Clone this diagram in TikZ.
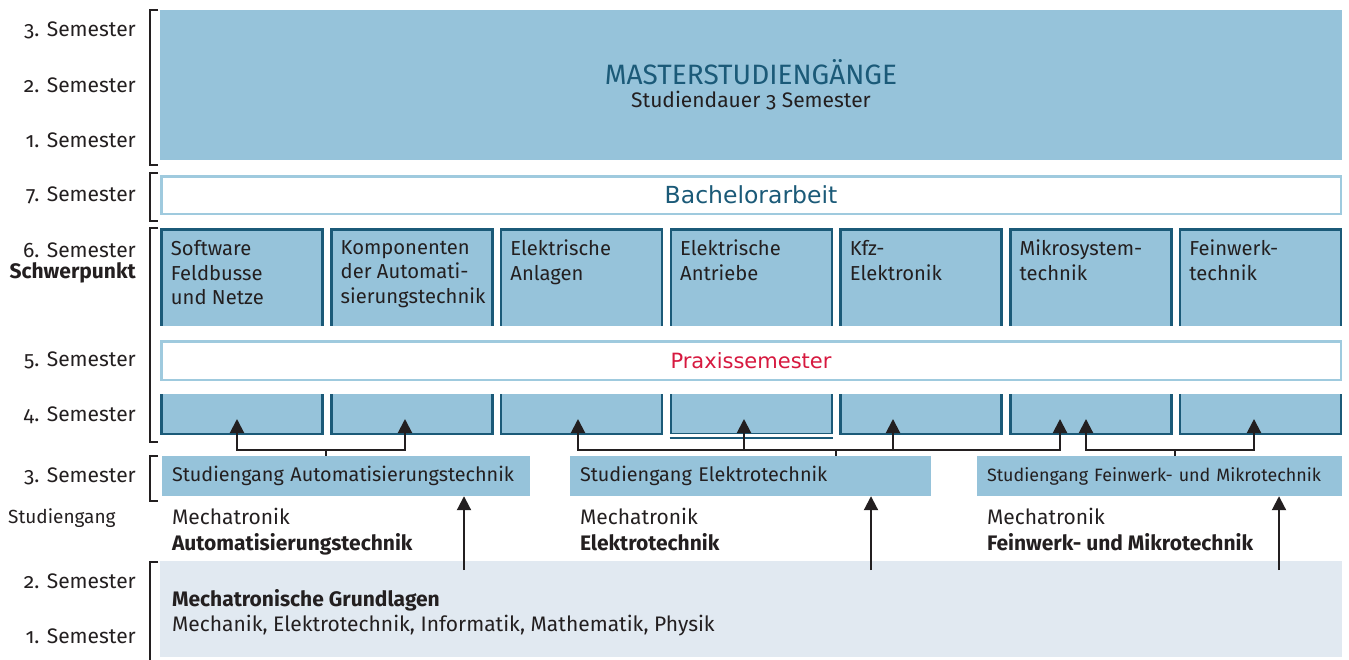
\documentclass[tikz,border=0pt]{standalone}
\usepackage{fontspec}
\setmainfont{Fira Sans}[Numbers=OldStyle]
\newfontfamily\breitfont{DejaVu Sans}
\usetikzlibrary{arrows.meta}

\definecolor{hellblau}{HTML}{96C3DA}
\definecolor{dunkelblau}{HTML}{1B5A78}
\definecolor{randblau}{HTML}{9FCADE}
\definecolor{grundgrau}{HTML}{E1E9F1}
\definecolor{praxisrot}{HTML}{D7193F}
\definecolor{strich}{HTML}{231F20}

\newcommand{\normsz}{\fontsize{21}{25}\selectfont}

\tikzset{
  semlabel/.style={anchor=east, font=\normsz, text=strich},
  spbox/.style={draw=dunkelblau, fill=hellblau, line width=2.5pt,
    minimum width=161pt, minimum height=204.5pt},
  sptext/.style={anchor=north west, align=left,
    font=\fontsize{20.2}{24.8}\selectfont, text=strich},
  weissbox/.style={draw=randblau, fill=white, line width=2.5pt,
    minimum width=1179.5pt},
  sgbox/.style={fill=hellblau, minimum height=40pt, inner xsep=10pt,
    align=left, font=\fontsize{19.8}{25}\selectfont, text=strich},
  mechtext/.style={anchor=north west, align=left,
    font=\fontsize{21}{26}\selectfont, text=strich},
  klammer/.style={line width=2.5pt, strich},
  linie/.style={line width=2pt, strich},
  pfeil/.style={linie, -{Triangle[length=14pt,width=14pt]}}
}

\begin{document}
\begin{tikzpicture}
    [x=1pt, y=-1pt, every node/.style={inner sep=0pt}]
    \useasboundingbox (0,0) rectangle (1349,659);

    % Semester am linken Rand
    \node[semlabel] (m3) at (136,30) {3. Semester};
    \node[semlabel] (m2) at (136,85) {2. Semester};
    \node[semlabel] (m1) at (136,140) {1. Semester};
    \node[semlabel] (b7) at (136,195) {7. Semester};
    \node[semlabel] (b6) at (136,250) {6. Semester};
    \node[semlabel] (sp) at (136,273) {\bfseries Schwerpunkt};
    \node[semlabel] (b5) at (136,360) {5. Semester};
    \node[semlabel] (b4) at (136,415) {4. Semester};
    \node[semlabel] (b3) at (136,476) {3. Semester};
    \node[semlabel, anchor=west, font=\fontsize{19}{25}\selectfont] (sg) at (8,518) {Studiengang};
    \node[semlabel] (b2) at (136,581) {2. Semester};
    \node[semlabel] (b1) at (136,636) {1. Semester};

    % Klammern
    \draw[klammer] (158,10) -- (150,10) -- (150,165) -- (158,165);
    \draw[klammer] (158,173) -- (150,173) -- (150,221) -- (158,221);
    \draw[klammer] (158,228) -- (150,228) -- (150,442) -- (158,442);
    \draw[klammer] (158,456) -- (150,456) -- (150,501) -- (158,501);
    \draw[klammer] (158,562) -- (150,562) -- (150,660);

    % Master
    \node[fill=hellblau, minimum width=1182pt, minimum height=150pt] (master) at (751,85) {};
    \node[text=dunkelblau, font=\fontsize{28}{32}\selectfont] (mt) at (751,72) {MASTERSTUDIENGÄNGE};
    \node[text=strich, font=\normsz] (md) at (751,101) {Studiendauer 3 Semester};

    % Bachelorarbeit
    \node[weissbox, minimum height=37.5pt, text=dunkelblau,
      font=\breitfont\fontsize{23.5}{26}\selectfont] (ba) at (751,195) {Bachelorarbeit};

    % Schwerpunkte
    \foreach \i/\txt in {1/{Software\\Feldbusse\\und Netze},
                         2/{Komponenten\\der Automati-\\sierungstechnik},
                         3/{Elektrische\\Anlagen},
                         4/{Elektrische\\Antriebe},
                         5/{Kfz-\\Elektronik},
                         6/{Mikrosystem-\\technik},
                         7/{Feinwerk-\\technik}}{
      \pgfmathsetmacro{\cx}{242+169.75*(\i-1)}
      \node[spbox] (c\i) at (\cx,331.5) {};
      \node[sptext] (t\i) at ([xshift=10.5pt,yshift=-12pt]c\i.north west) {\txt};
    }
    % versetzte Unterkante bei Spalte 4
    \draw[white, line width=2.5pt] (c4.south west) -- (c4.south east);
    \draw[dunkelblau, line width=2.5pt] ([yshift=-3pt]c4.south west) -- ([yshift=-3pt]c4.south east);

    % Praxissemester
    \fill[white] (156,326) rectangle (1346,394);
    \node[weissbox, minimum height=38.5pt, text=praxisrot,
      font=\breitfont\fontsize{21}{24}\selectfont] (praxis) at (751,360.5) {Praxissemester};

    % Studiengaenge
    \node[sgbox, text width=348pt] (sa) at (346,476) {Studiengang Automatisierungstechnik};
    \node[sgbox, text width=341pt] (se) at (750.5,476) {Studiengang Elektrotechnik};
    \node[sgbox, text width=345pt, font=\fontsize{17.9}{25}\selectfont] (sf) at (1159.5,476)
      {Studiengang Feinwerk- und Mikrotechnik};

    \node[mechtext] (ma) at ([xshift=10pt,yshift=-12pt]sa.south west)
      {Mechatronik\\\textbf{Automatisierungstechnik}};
    \node[mechtext] (me) at ([xshift=10pt,yshift=-12pt]se.south west)
      {Mechatronik\\\textbf{Elektrotechnik}};
    \node[mechtext] (mf) at ([xshift=10pt,yshift=-12pt]sf.south west)
      {Mechatronik\\\textbf{Feinwerk- und Mikrotechnik}};

    % Grundlagen
    \node[fill=grundgrau, minimum width=1182pt, minimum height=96pt] (grund) at (751,609) {};
    \node[mechtext, anchor=west, font=\fontsize{21}{25}\selectfont] (gt)
      at ([xshift=12pt,yshift=-4pt]grund.west)
      {\textbf{Mechatronische Grundlagen}\\Mechanik, Elektrotechnik, Informatik, Mathematik, Physik};

    % Pfeile Grundlagen -> Studiengang
    \coordinate (g1) at (464,570);
    \coordinate (g2) at (871,570);
    \coordinate (g3) at (1279,570);
    \draw[pfeil] (g1) -- (g1 |- sa.south);
    \draw[pfeil] (g2) -- (g2 |- se.south);
    \draw[pfeil] (g3) -- (g3 |- sf.south);

    % Pfeile Studiengang -> Schwerpunkt
    \coordinate (ka) at (326,450);
    \coordinate (ke) at (836,450);
    \coordinate (kf) at (1175,450);
    \coordinate (p1) at (237,419);
    \coordinate (p2) at (405,419);
    \coordinate (p3) at (578,419);
    \coordinate (p4) at (744,419);
    \coordinate (p5) at (893,419);
    \coordinate (p6) at (1060,419);
    \coordinate (p7) at (1086,419);
    \coordinate (p8) at (1254,419);
    \draw[linie] (ka) -- (ka |- sa.north);
    \draw[linie] (ke) -- (ke |- se.north);
    \draw[linie] (kf) -- (kf |- sf.north);
    \draw[pfeil] (ka) -| (p1);
    \draw[pfeil] (ka) -| (p2);
    \draw[pfeil] (ke) -| (p3);
    \draw[pfeil] (ke) -| (p4);
    \draw[pfeil] (ke) -| (p5);
    \draw[pfeil] (ke) -| (p6);
    \draw[pfeil] (kf) -| (p7);
    \draw[pfeil] (kf) -| (p8);
\end{tikzpicture}
\end{document}
